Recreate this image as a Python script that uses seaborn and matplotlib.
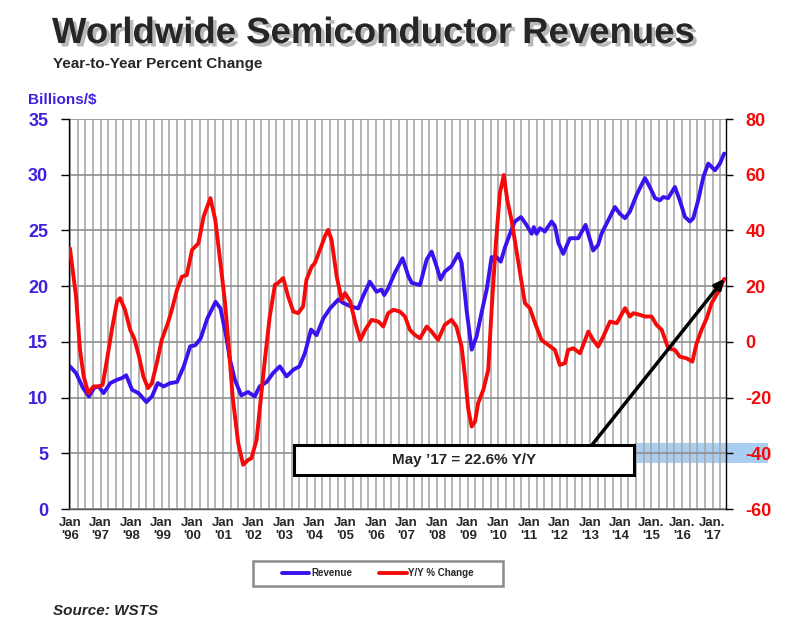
import matplotlib.pyplot as plt
import matplotlib.patheffects as pe
from matplotlib.patches import Rectangle
from matplotlib.lines import Line2D
import seaborn as sns
import numpy as np

# monthly revenue, billions of dollars
rev_years = [1996.00, 1996.20, 1996.42, 1996.62, 1996.80, 1996.94, 1997.10, 1997.32, 1997.54, 1997.70,
             1997.84, 1998.03, 1998.24, 1998.50, 1998.68, 1998.87, 1999.06, 1999.28, 1999.50, 1999.72,
             1999.93, 2000.10, 2000.27, 2000.49, 2000.76, 2000.92, 2001.10, 2001.23, 2001.39, 2001.60,
             2001.82, 2002.04, 2002.20, 2002.43, 2002.64, 2002.86, 2003.08, 2003.30, 2003.50, 2003.68,
             2003.88, 2004.06, 2004.28, 2004.50, 2004.77, 2004.93, 2005.16, 2005.42, 2005.58, 2005.80,
             2006.02, 2006.18, 2006.27, 2006.40, 2006.62, 2006.87, 2007.06, 2007.17, 2007.44, 2007.66,
             2007.82, 2007.98, 2008.11, 2008.25, 2008.47, 2008.69, 2008.80, 2008.96, 2009.13, 2009.29,
             2009.45, 2009.62, 2009.78, 2009.94, 2010.08, 2010.22, 2010.38, 2010.54, 2010.74, 2010.92,
             2011.09, 2011.16, 2011.25, 2011.36, 2011.52, 2011.74, 2011.85, 2011.96, 2012.12, 2012.34,
             2012.61, 2012.85, 2013.10, 2013.26, 2013.37, 2013.59, 2013.81, 2013.97, 2014.14, 2014.30,
             2014.52, 2014.79, 2014.95, 2015.12, 2015.28, 2015.39, 2015.55, 2015.77, 2015.93, 2016.10,
             2016.26, 2016.37, 2016.53, 2016.70, 2016.86, 2017.08, 2017.24, 2017.38]
revenue = [12.8, 12.2, 10.9, 10.1, 10.9, 11.0, 10.4, 11.3, 11.6, 11.75,
           12.0, 10.7, 10.4, 9.6, 10.1, 11.3, 11.0, 11.3, 11.4, 12.8,
           14.6, 14.7, 15.3, 17.1, 18.6, 18.0, 15.6, 13.4, 11.6, 10.2,
           10.5, 10.1, 11.0, 11.4, 12.2, 12.8, 11.9, 12.5, 12.8, 14.0,
           16.1, 15.6, 17.1, 18.0, 18.8, 18.5, 18.2, 18.0, 19.1, 20.4,
           19.5, 19.7, 19.2, 19.8, 21.2, 22.5, 20.9, 20.3, 20.1, 22.4,
           23.1, 21.8, 20.6, 21.3, 21.8, 22.9, 22.1, 17.9, 14.3, 15.5,
           17.6, 19.7, 22.6, 22.6, 22.2, 23.5, 24.7, 25.8, 26.2, 25.5,
           24.7, 25.3, 24.7, 25.2, 24.9, 25.8, 25.4, 23.9, 22.9, 24.3,
           24.3, 25.5, 23.2, 23.7, 24.7, 25.9, 27.1, 26.5, 26.1, 26.7,
           28.2, 29.7, 28.9, 27.9, 27.7, 28.0, 27.9, 28.9, 27.7, 26.2,
           25.8, 26.1, 27.7, 29.8, 31.0, 30.4, 31.0, 31.9]

# year-to-year percent change
yoy_years = [1996.00, 1996.20, 1996.33, 1996.45, 1996.60, 1996.77, 1996.94, 1997.07, 1997.21, 1997.37,
             1997.54, 1997.64, 1997.80, 1997.97, 1998.10, 1998.26, 1998.40, 1998.55, 1998.68, 1998.84,
             1999.00, 1999.20, 1999.33, 1999.50, 1999.66, 1999.82, 1999.99, 2000.20, 2000.37, 2000.59,
             2000.75, 2000.92, 2001.07, 2001.20, 2001.32, 2001.50, 2001.66, 2001.82, 2001.93, 2002.10,
             2002.20, 2002.37, 2002.53, 2002.70, 2002.80, 2002.97, 2003.13, 2003.30, 2003.46, 2003.62,
             2003.73, 2003.90, 2004.00, 2004.17, 2004.33, 2004.44, 2004.55, 2004.72, 2004.88, 2004.99,
             2005.16, 2005.33, 2005.49, 2005.65, 2005.86, 2006.08, 2006.24, 2006.40, 2006.57, 2006.78,
             2006.95, 2007.11, 2007.27, 2007.44, 2007.66, 2007.82, 2008.03, 2008.25, 2008.47, 2008.63,
             2008.80, 2008.91, 2009.02, 2009.13, 2009.24, 2009.34, 2009.51, 2009.67, 2009.78, 2009.92,
             2010.05, 2010.18, 2010.29, 2010.43, 2010.57, 2010.73, 2010.87, 2011.03, 2011.20, 2011.41,
             2011.63, 2011.85, 2012.01, 2012.18, 2012.28, 2012.45, 2012.67, 2012.94, 2013.10, 2013.26,
             2013.43, 2013.65, 2013.87, 2014.14, 2014.30, 2014.41, 2014.63, 2014.79, 2015.01, 2015.17,
             2015.34, 2015.55, 2015.77, 2015.93, 2016.15, 2016.34, 2016.48, 2016.64, 2016.81, 2016.97,
             2017.19, 2017.38]
yoy_change = [33.6, 16.3, -2.9, -12.4, -18.4, -16.0, -16.0, -15.4, -6.5, 4.3,
              14.5, 15.7, 11.5, 4.3, 1.3, -5.3, -12.4, -16.6, -14.8, -7.6,
              0.7, 6.7, 11.5, 18.7, 23.4, 24.0, 33.0, 35.4, 45.0, 51.6,
              43.8, 28.2, 14.0, -3.0, -20.0, -36.4, -44.1, -42.4, -41.8, -35.2,
              -24.4, -6.5, 9.1, 20.5, 21.1, 22.9, 16.3, 10.9, 10.3, 12.7,
              22.3, 27.0, 28.2, 33.0, 37.8, 40.2, 36.6, 23.4, 15.1, 17.5,
              14.5, 6.7, 0.7, 4.3, 7.9, 7.3, 5.5, 10.3, 11.5, 10.9,
              9.1, 4.3, 2.5, 1.3, 5.5, 3.7, 0.7, 6.1, 7.9, 5.5,
              -1.7, -12.4, -24.4, -30.4, -28.6, -22.0, -17.2, -10.1, 11.5, 35.4,
              53.4, 59.9, 51.0, 43.8, 34.2, 23.4, 13.9, 12.1, 6.7, 0.7,
              -1.1, -2.9, -8.3, -7.6, -2.9, -2.3, -4.1, 3.7, 0.7, -1.7,
              1.9, 7.3, 6.7, 12.1, 9.1, 10.3, 9.7, 9.1, 9.1, 6.1,
              4.3, -2.3, -2.9, -5.3, -5.9, -7.1, -0.5, 4.3, 8.5, 13.9,
              18.1, 22.6]

year_ticks = list(range(1996, 2018))
year_labels = ["Jan\n'96", "Jan\n'97", "Jan\n'98", "Jan\n'99", "Jan\n'00", "Jan\n'01", "Jan\n'02",
               "Jan\n'03", "Jan\n'04", "Jan\n'05", "Jan\n'06", "Jan\n'07", "Jan\n'08", "Jan\n'09",
               "Jan\n'10", "Jan\n'11", "Jan\n'12", "Jan\n'13", "Jan\n'14", "Jan.\n'15", "Jan.\n'16",
               "Jan.\n'17"]

sns.set_style("white")
plt.rcParams["font.family"] = ["Liberation Sans", "DejaVu Sans"]
plt.rcParams["axes.unicode_minus"] = False

BLUE = "#3b12ee"
LABEL_BLUE = "#3d22dc"
RED = "#f50a0a"
GRID = "#a8a8a8"

fig = plt.figure(figsize=(8, 6.32), dpi=100)
ax = fig.add_axes([0.08625, 0.1946, 0.82125, 0.6171])
ax.set_facecolor("none")
ax2 = ax.twinx()
ax2.set_facecolor("none")

sns.lineplot(x=rev_years, y=revenue, ax=ax, color=BLUE, linewidth=2.8)
sns.lineplot(x=yoy_years, y=yoy_change, ax=ax2, color=RED, linewidth=2.8)

ax.set_xlim(1995.97, 2017.44)
ax.set_ylim(0, 35)
ax2.set_ylim(-60, 80)
ax.set_yticks(range(0, 36, 5))
ax2.set_yticks(range(-60, 81, 20))
ax.set_xticks(year_ticks)
ax.set_xticklabels(year_labels, fontweight="bold", fontsize=9.5, linespacing=1.05)
ax.set_xticks(np.arange(1996, 2017.5, 0.25), minor=True)
ax.set_xlabel("")
ax.set_ylabel("")
ax2.set_ylabel("")

ax.set_axisbelow(True)
ax.grid(which="both", axis="x", color=GRID, linewidth=1.2)
ax.grid(which="major", axis="y", color="#8f8f8f", linewidth=1.2)
ax2.grid(False)

ax.tick_params(axis="x", which="both", length=0, pad=6)
ax.tick_params(axis="y", length=6, width=1, color="black", direction="out", pad=9,
               labelsize=13, labelcolor=LABEL_BLUE, left=True)
ax2.tick_params(axis="y", length=5, width=1, color="black", direction="out", pad=9,
                labelsize=13, labelcolor=RED, right=True)
for lbl in ax.get_yticklabels() + ax2.get_yticklabels():
    lbl.set_fontweight("bold")

for s in ["top", "right"]:
    ax.spines[s].set_visible(False)
for s in ["top", "left", "bottom"]:
    ax2.spines[s].set_visible(False)
ax.spines["left"].set_color("black")
ax.spines["bottom"].set_color("#555555")
ax2.spines["right"].set_color("black")
for s in ["left", "bottom"]:
    ax.spines[s].set_linewidth(1)
ax2.spines["right"].set_linewidth(1)

# titles and labels
fig.text(52 / 800, 1 - 43 / 632, "Worldwide Semiconductor Revenues", fontsize=26.3, fontweight="bold",
         va="baseline",
         path_effects=[pe.withSimplePatchShadow(offset=(2.5, -2.5), shadow_rgbFace="gray", alpha=0.55)])
fig.text(53 / 800, 1 - 68 / 632, "Year-to-Year Percent Change", fontsize=11, fontweight="bold",
         va="baseline")
fig.text(28 / 800, 1 - 104 / 632, "Billions/$", fontsize=11, fontweight="bold", color=LABEL_BLUE,
         va="baseline")
fig.text(53 / 800, 1 - 615 / 632, "Source: WSTS", fontsize=11, fontweight="bold", style="italic",
         va="baseline")

# highlight band behind the -40 label
fig.add_artist(Rectangle((634 / 800, 1 - 463 / 632), 134 / 800, 20 / 632, transform=fig.transFigure,
                         facecolor="#aacdf2", edgecolor="none", zorder=-1))

# annotation box and arrow
ax2.add_patch(Rectangle((0.3425, 0.0872), 0.5175, 0.0769, transform=ax2.transAxes, facecolor="white",
                        edgecolor="black", linewidth=2.2, zorder=5, clip_on=False))
ax2.text(0.601, 0.126, "May \u201917 = 22.6% Y/Y", transform=ax2.transAxes, ha="center", va="center",
         fontsize=11, fontweight="bold", zorder=6)
ax2.annotate("", xy=(yoy_years[-1], yoy_change[-1]), xytext=(2013.06, -37.0),
             arrowprops=dict(arrowstyle="-|>", color="black", lw=2.5, mutation_scale=14,
                             shrinkA=0, shrinkB=0), zorder=6)

# legend
handles = [Line2D([], [], color=BLUE, lw=2.8), Line2D([], [], color=RED, lw=2.8)]
fig.legend(handles, ["Revenue", "Y/Y % Change"], loc="center", bbox_to_anchor=(378 / 800, 1 - 573.5 / 632),
           ncol=2, frameon=False, prop={"size": 7, "weight": "bold"}, handlelength=2.8,
           handletextpad=0.2, columnspacing=2.8)
fig.add_artist(Rectangle((253 / 800, 1 - 586 / 632), 250 / 800, 25 / 632, transform=fig.transFigure,
                         fill=False, edgecolor="#8a8a8a", linewidth=1.8))

fig.savefig("out.png", dpi=100)
plt.close(fig)
